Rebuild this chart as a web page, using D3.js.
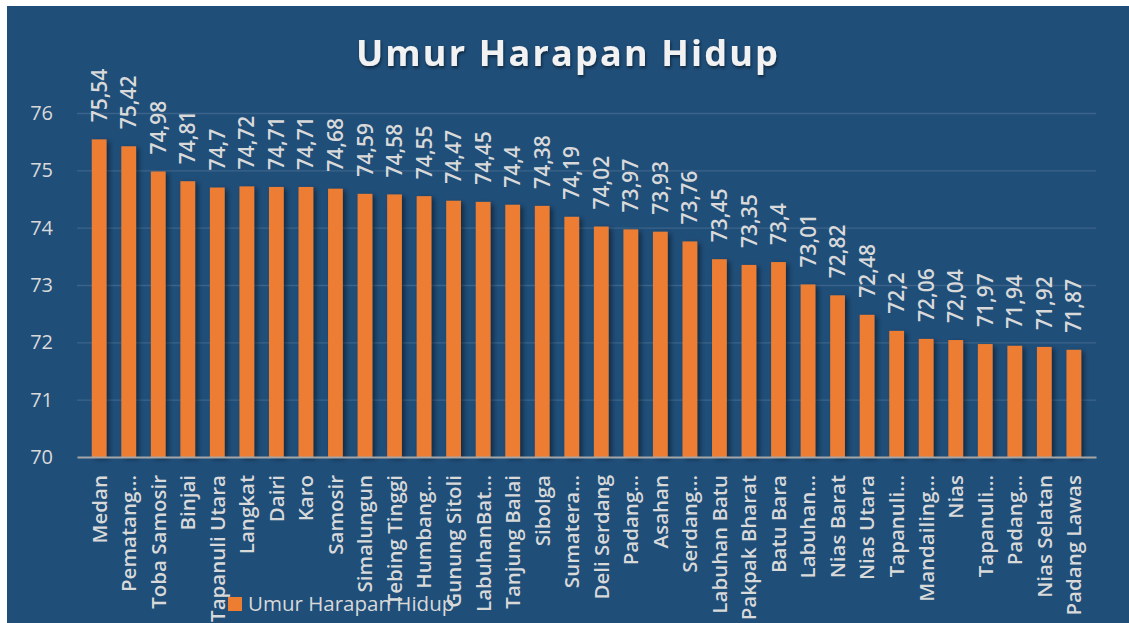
<!DOCTYPE html>
<html>
<head>
<meta charset="utf-8">
<script src="https://cdn.jsdelivr.net/npm/d3@7"></script>
<style>
  body { margin: 0; background: #ffffff; }
  svg { display: block; font-family: "Open Sans", sans-serif; }
</style>
</head>
<body>
<div id="chart"></div>
<script>
// data
var regions = ["Medan", "Pematang\u2026", "Toba Samosir", "Binjai", "Tapanuli Utara", "Langkat", "Dairi", "Karo",
    "Samosir", "Simalungun", "Tebing Tinggi", "Humbang\u2026", "Gunung Sitoli", "LabuhanBat\u2026", "Tanjung Balai",
    "Sibolga", "Sumatera\u2026", "Deli Serdang", "Padang\u2026", "Asahan", "Serdang\u2026", "Labuhan Batu",
    "Pakpak Bharat", "Batu Bara", "Labuhan\u2026", "Nias Barat", "Nias Utara", "Tapanuli\u2026", "Mandailing\u2026",
    "Nias", "Tapanuli\u2026", "Padang\u2026", "Nias Selatan", "Padang Lawas"];
var uhh = [75.54, 75.42, 74.98, 74.81, 74.7, 74.72, 74.71, 74.71, 74.68, 74.59, 74.58, 74.55, 74.47, 74.45, 74.4,
    74.38, 74.19, 74.02, 73.97, 73.93, 73.76, 73.45, 73.35, 73.4, 73.01, 72.82, 72.48, 72.2, 72.06, 72.04,
    71.97, 71.94, 71.92, 71.87];
var yTicks = [70, 71, 72, 73, 74, 75, 76];
var seriesName = "Umur Harapan Hidup";
var chartTitle = "Umur Harapan Hidup";

var W = 1129, H = 623;
var margin = { top: 113, right: 33, bottom: 166, left: 77 },
    width = W - margin.left - margin.right,
    height = H - margin.top - margin.bottom;

var svg = d3.select("#chart").append("svg")
    .attr("width", W)
    .attr("height", H);

// shadows
var defs = svg.append("defs");
defs.append("filter").attr("id", "barShadow")
    .attr("x", "-50%").attr("y", "-10%").attr("width", "200%").attr("height", "120%")
    .append("feDropShadow")
    .attr("dx", 3).attr("dy", 2).attr("stdDeviation", 2.5)
    .attr("flood-color", "#000").attr("flood-opacity", 0.45);
defs.append("filter").attr("id", "titleShadow")
    .append("feDropShadow")
    .attr("dx", 1).attr("dy", 2).attr("stdDeviation", 1.5)
    .attr("flood-color", "#000").attr("flood-opacity", 0.5);

// chart background
svg.append("rect")
    .attr("x", 7).attr("y", 6)
    .attr("width", W - 7).attr("height", H - 6)
    .attr("fill", "#1f4e79");

svg.append("text")
    .attr("x", 568).attr("y", 66)
    .attr("text-anchor", "middle")
    .attr("fill", "#f2f2f2")
    .style("font-size", "36px")
    .style("font-weight", 700)
    .style("letter-spacing", "2.2px")
    .attr("filter", "url(#titleShadow)")
    .text(chartTitle);

var g = svg.append("g")
    .attr("transform", "translate(" + margin.left + "," + margin.top + ")");

var x = d3.scaleBand()
    .domain(d3.range(regions.length))
    .range([0, width])
    .padding(0.5);

var y = d3.scaleLinear()
    .domain([70, 76])
    .range([height, 0]);

// gridlines
g.append("g")
    .call(d3.axisLeft(y).tickValues(yTicks.slice(1)).tickSize(-width).tickFormat(""))
    .call(function(s) { s.select(".domain").remove(); })
    .selectAll("line")
    .attr("stroke", "#ffffff")
    .attr("stroke-opacity", 0.13)
    .attr("stroke-width", 1.3);

// y axis labels
g.append("g")
    .call(d3.axisLeft(y).tickValues(yTicks).tickSize(0).tickPadding(24).tickFormat(d3.format("d")))
    .call(function(s) { s.select(".domain").remove(); })
    .selectAll("text")
    .attr("fill", "#d9d9d9")
    .style("font-size", "20px")
    .style("font-family", "Open Sans, sans-serif");

// bars
g.selectAll(".bar")
    .data(uhh)
    .enter()
    .append("rect")
    .attr("class", "bar")
    .attr("x", function(d, i) { return x(i); })
    .attr("y", function(d) { return y(d); })
    .attr("width", x.bandwidth())
    .attr("height", function(d) { return height - y(d); })
    .attr("fill", "#ed7d31")
    .attr("filter", "url(#barShadow)");

// value labels
g.selectAll(".val")
    .data(uhh)
    .enter()
    .append("text")
    .attr("class", "val")
    .attr("transform", function(d, i) {
        return "translate(" + (x(i) + x.bandwidth() / 2) + "," + (y(d) - 17) + ") rotate(-90)";
    })
    .attr("dy", "0.36em")
    .attr("fill", "#d9d9d9")
    .style("font-size", "21px")
    .style("font-weight", 600)
    .text(function(d) { return String(d).replace(".", ","); });

// x axis
var xAxis = g.append("g")
    .attr("transform", "translate(0," + height + ")")
    .call(d3.axisBottom(x).tickSize(0).tickPadding(0).tickFormat(function(i) { return regions[i]; }));
xAxis.select(".domain")
    .attr("stroke", "#a6a6a6")
    .attr("stroke-width", 2);
xAxis.selectAll("text")
    .attr("fill", "#d9d9d9")
    .style("font-size", "20.5px")
    .style("font-weight", 600)
    .style("font-family", "Open Sans, sans-serif")
    .style("text-anchor", "end")
    .attr("transform", "translate(0,18) rotate(-90)")
    .attr("x", 0)
    .attr("y", 0)
    .attr("dy", "0.36em");

// legend
var legend = svg.append("g").attr("transform", "translate(228,597)");
legend.append("rect")
    .attr("width", 14).attr("height", 14)
    .attr("fill", "#ed7d31");
legend.append("text")
    .attr("x", 20).attr("y", 13.5)
    .attr("fill", "#d9d9d9")
    .style("font-size", "20.5px")
    .text(seriesName);
</script>
</body>
</html>
